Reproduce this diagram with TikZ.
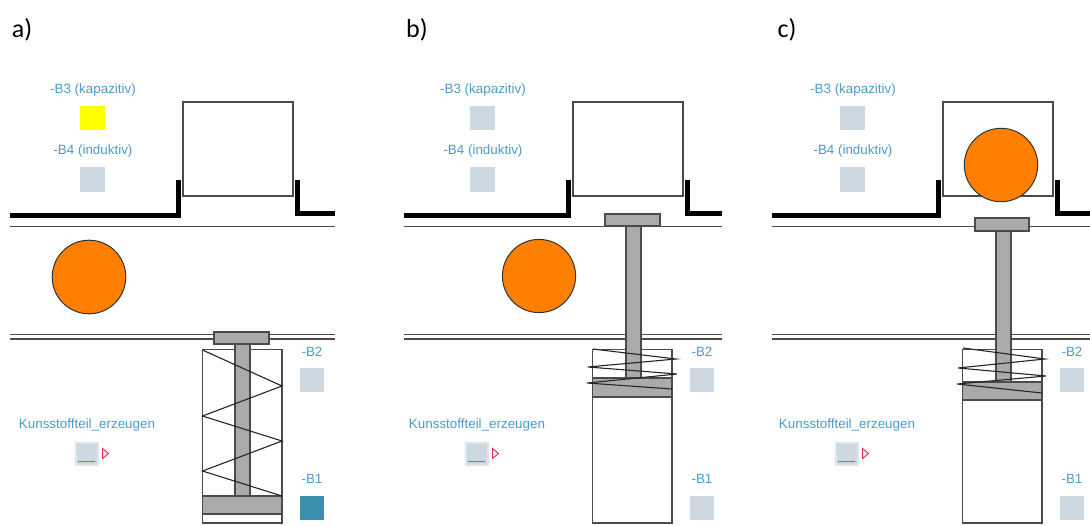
\documentclass[tikz,border=0pt]{standalone}
\usepackage{fontspec}
\setmainfont{Liberation Sans}
\newfontfamily\panelfont{Carlito}
\definecolor{labelblue}{RGB}{75,155,200}
\definecolor{sensorgray}{RGB}{205,216,224}
\definecolor{sensoron}{RGB}{58,143,174}
\definecolor{sensoryellow}{RGB}{255,255,0}
\definecolor{partorange}{RGB}{255,128,0}
\definecolor{steelgray}{RGB}{170,170,170}
\definecolor{edgegray}{RGB}{75,75,75}
\definecolor{btnedge}{RGB}{222,228,234}
\definecolor{trigred}{RGB}{240,40,85}
\usetikzlibrary{positioning}

\begin{document}
\begin{tikzpicture}[x=1pt, y=-1pt,
    panellabel/.style={font=\panelfont\fontsize{26}{30}\selectfont, inner sep=0pt},
    sensorlabel/.style={font=\fontsize{13.4}{16}\selectfont, text=labelblue, inner sep=0pt},
    sensor/.style={rectangle, minimum size=24.5pt, inner sep=0pt, fill=sensorgray},
    button/.style={rectangle, minimum size=22pt, inner sep=0pt, draw=btnedge, line width=2pt, fill=sensorgray},
    rail/.style={line width=5pt, black},
    guide/.style={line width=1.4pt, edgegray},
    magazine/.style={draw=edgegray, line width=1.2pt},
    cylinder/.style={draw=edgegray, line width=1.3pt, fill=white},
    plate/.style={draw=edgegray, line width=1.1pt, fill=steelgray},
    spring/.style={line width=1.1pt, black!85},
    part/.style={draw=black!80, line width=1pt, fill=partorange}]

\useasboundingbox (0,0) rectangle (1090,525);

\node[panellabel] (lbla) at (22,30) {a)};
\node[panellabel] (lblb) at (417,30) {b)};
\node[panellabel] (lblc) at (787,30) {c)};

% station: rails, magazine, sensors, cylinder
\foreach \dx/\lx/\rx in {0/10/335, 390/14/332, 760/12/330} {
  \begin{scope}[xshift=\dx pt]
    \draw[rail] (\lx,215) -- (178,215) -- (178,180);
    \draw[rail] (297,180) -- (297,213) -- (\rx,213);
    \draw[guide] (\lx,226.5) -- (\rx,226.5);
    \draw[guide] (\lx,334.5) -- (\rx,334.5);
    \draw[guide] (\lx,339) -- (\rx,339);
    \draw[magazine] (183,102) rectangle (293,196);

    \node[sensorlabel] (b3lbl\dx) at (93,90) {-B3 (kapazitiv)};
    \node[sensorlabel] (b4lbl\dx) at (93,151) {-B4 (induktiv)};
    \node[sensorlabel] (b2lbl\dx) at (312,352) {-B2};
    \node[sensorlabel] (b1lbl\dx) at (312,479) {-B1};
    \node[sensor] (b4\dx) at (92.5,179.5) {};
    \node[sensor] (b2\dx) at (312,380) {};

    \node[sensorlabel] (genlbl\dx) at (87,425) {Kunsstoffteil\_erzeugen};
    \node[button] (gen\dx) at (86.5,453.5) {};
    \draw[sensoron, line width=1.5pt] (78,461.5) -- (95,461.5);
    \draw[trigred, line width=1pt] (102.5,448.5) -- (108.5,453.5) -- (102.5,458.5) -- cycle;

    \draw[cylinder] (202.5,349.5) rectangle (282,523);
  \end{scope}
}

% a) retracted
\node[sensor, fill=sensoryellow] (b3a) at (92.5,118) {};
\node[sensor, fill=sensoron] (b1a) at (312,508) {};
\draw[part] (89,277) circle (36.8);
\draw[plate] (214,332) rectangle (269,344);
\draw[plate] (235,344) rectangle (250,496);
\draw[plate] (202.5,496) rectangle (282,514);
\draw[spring] (202.5,350) -- (282,386) -- (202.5,416) -- (282,441) -- (202.5,471) -- (282,496);

% b) extended
\begin{scope}[xshift=390pt]
  \node[sensor] (b3b) at (92.5,118) {};
  \node[sensor] (b1b) at (312,508) {};
  \draw[part] (149,276) circle (36.6);
  \draw[plate] (215,214) rectangle (270,226);
  \draw[plate] (236,226) rectangle (251,378);
  \draw[plate] (202.5,378) rectangle (282,397);
  \draw[spring] (203,349) -- (286,359) -- (198,367) -- (287,374) -- (197,383) -- (282,389);
\end{scope}

% c) part pushed into magazine
\begin{scope}[xshift=760pt]
  \node[sensor] (b3c) at (92.5,118) {};
  \node[sensor] (b1c) at (312,508) {};
  \draw[part] (241,165) circle (36.7);
  \draw[plate] (215,218) rectangle (269,231);
  \draw[plate] (236,231) rectangle (251,382);
  \draw[plate] (202.5,382) rectangle (282,400);
  \draw[spring] (203,348) -- (285,359) -- (198,368) -- (286,376) -- (197,384) -- (282,393);
\end{scope}
\end{tikzpicture}
\end{document}
